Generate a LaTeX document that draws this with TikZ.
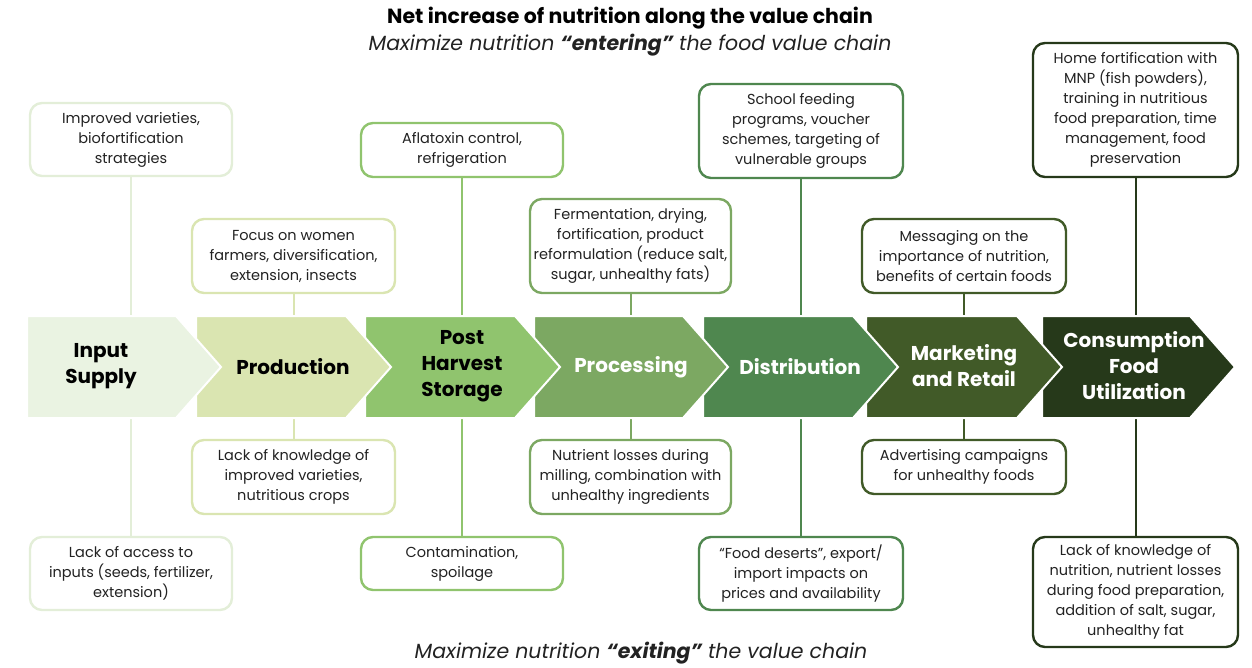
\documentclass[tikz,border=0pt]{standalone}
\usepackage{fontspec}
\setmainfont{Poppins}
\definecolor{cA}{HTML}{EAF3E2}
\definecolor{cAline}{HTML}{E3EED8}
\definecolor{cB}{HTML}{DAE5B1}
\definecolor{cC}{HTML}{90C46E}
\definecolor{cD}{HTML}{7CA862}
\definecolor{cE}{HTML}{4F874F}
\definecolor{cF}{HTML}{415A28}
\definecolor{cG}{HTML}{26391A}
\definecolor{ink}{HTML}{222222}
\begin{document}
\begin{tikzpicture}[x=1pt,y=-1pt,
  note/.style={draw=#1, line width=2.4pt, rounded corners=12pt, fill=white,
    align=center, text=ink, font=\fontsize{14.5}{20}\selectfont, inner sep=0pt},
  link/.style={draw=#1, line width=2pt},
  stagelabel/.style={font=\fontsize{20}{26}\selectfont\bfseries, align=center, inner sep=0pt},
  chev/.style={fill=#1, draw=white, line width=2pt, line join=miter},
  heading/.style={font=\fontsize{20.5}{22}\selectfont#1}
]
\useasboundingbox (0,0) rectangle (1252,667);

% headings
\node[heading=\bfseries, text=black] (title) at (630,18)
  {Net increase of nutrition along the value chain};
\node[heading=\itshape, text=ink] (sub) at (630,45)
  {Maximize nutrition \textbf{“entering”} the food value chain};
\node[heading=\itshape, text=ink] (foot) at (641,653)
  {Maximize nutrition \textbf{“exiting”} the value chain};

% edges of the chevron band
\coordinate (bandtop) at (0,316);
\coordinate (bandbot) at (0,418);

% boxes above the band
\node[note=cAline, minimum width=202, minimum height=73] (t1) at (131,139.5)
  {Improved varieties,\\biofortification\\strategies};
\node[note=cB, minimum width=203, minimum height=74] (t2) at (293.5,256)
  {Focus on women\\farmers, diversification,\\extension, insects};
\node[note=cC, minimum width=202, minimum height=54] (t3) at (462,150)
  {Aflatoxin control,\\refrigeration};
\node[note=cD, minimum width=201, minimum height=94] (t4) at (630.5,246)
  {Fermentation, drying,\\fortification, product\\reformulation (reduce salt,\\sugar, unhealthy fats)};
\node[note=cE, minimum width=204, minimum height=94] (t5) at (801,131)
  {School feeding\\programs, voucher\\schemes, targeting of\\vulnerable groups};
\node[note=cF, minimum width=204, minimum height=74] (t6) at (964,256)
  {Messaging on the\\importance of nutrition,\\benefits of certain foods};
\node[note=cG, minimum width=205, minimum height=134] (t7) at (1135.5,110)
  {Home fortification with\\MNP (fish powders),\\training in nutritious\\food preparation, time\\management, food\\preservation};

% boxes below the band
\node[note=cAline, minimum width=202, minimum height=73] (b1) at (131,573.5)
  {Lack of access to\\inputs (seeds, fertilizer,\\extension)};
\node[note=cB, minimum width=203, minimum height=74] (b2) at (293.5,477)
  {Lack of knowledge of\\improved varieties,\\nutritious crops};
\node[note=cC, minimum width=202, minimum height=53] (b3) at (462,563.5)
  {Contamination,\\spoilage};
\node[note=cD, minimum width=201, minimum height=74] (b4) at (630.5,477)
  {Nutrient losses during\\milling, combination with\\unhealthy ingredients};
\node[note=cE, minimum width=204, minimum height=73] (b5) at (801,573.5)
  {“Food deserts”, export/\\import impacts on\\prices and availability};
\node[note=cF, minimum width=204, minimum height=54] (b6) at (964,467)
  {Advertising campaigns\\for unhealthy foods};
\node[note=cG, minimum width=205, minimum height=110] (b7) at (1135.5,592)
  {Lack of knowledge of\\nutrition, nutrient losses\\during food preparation,\\addition of salt, sugar,\\unhealthy fat};

% connectors between boxes and the band
\draw[link=cAline] (t1.south) -- (t1.south |- bandtop);
\draw[link=cB] (t2.south) -- (t2.south |- bandtop);
\draw[link=cC] (t3.south) -- (t3.south |- bandtop);
\draw[link=cD] (t4.south) -- (t4.south |- bandtop);
\draw[link=cE] (t5.south) -- (t5.south |- bandtop);
\draw[link=cF] (t6.south) -- (t6.south |- bandtop);
\draw[link=cG] (t7.south) -- (t7.south |- bandtop);
\draw[link=cAline] (b1.north |- bandbot) -- (b1.north);
\draw[link=cB] (b2.north |- bandbot) -- (b2.north);
\draw[link=cC] (b3.north |- bandbot) -- (b3.north);
\draw[link=cD] (b4.north |- bandbot) -- (b4.north);
\draw[link=cE] (b5.north |- bandbot) -- (b5.north);
\draw[link=cF] (b6.north |- bandbot) -- (b6.north);
\draw[link=cG] (b7.north |- bandbot) -- (b7.north);

% chevron band, drawn right to left so each tip lies over the next stage
\foreach \l/\r/\c in {1042/1190/cG, 866/1017/cF, 703/853/cE, 534/683/cD, 365/515/cC, 196/346/cB, 27/176/cA}
  \filldraw[chev=\c] (\l,316) -- (\r,316) -- (\r+45,367) -- (\r,418) -- (\l,418) -- cycle;

\node[stagelabel, text=black] (s1) at (101,366) {Input\\Supply};
\node[stagelabel, text=black] (s2) at (293,367) {Production};
\node[stagelabel, text=black] (s3) at (462,366) {Post\\Harvest\\Storage};
\node[stagelabel, text=white] (s4) at (631,367) {Processing};
\node[stagelabel, text=white] (s5) at (800,367) {Distribution};
\node[stagelabel, text=white] (s6) at (964,366) {Marketing\\and Retail};
\node[stagelabel, text=white] (s7) at (1134,366) {Consumption\\Food\\Utilization};
\end{tikzpicture}
\end{document}
